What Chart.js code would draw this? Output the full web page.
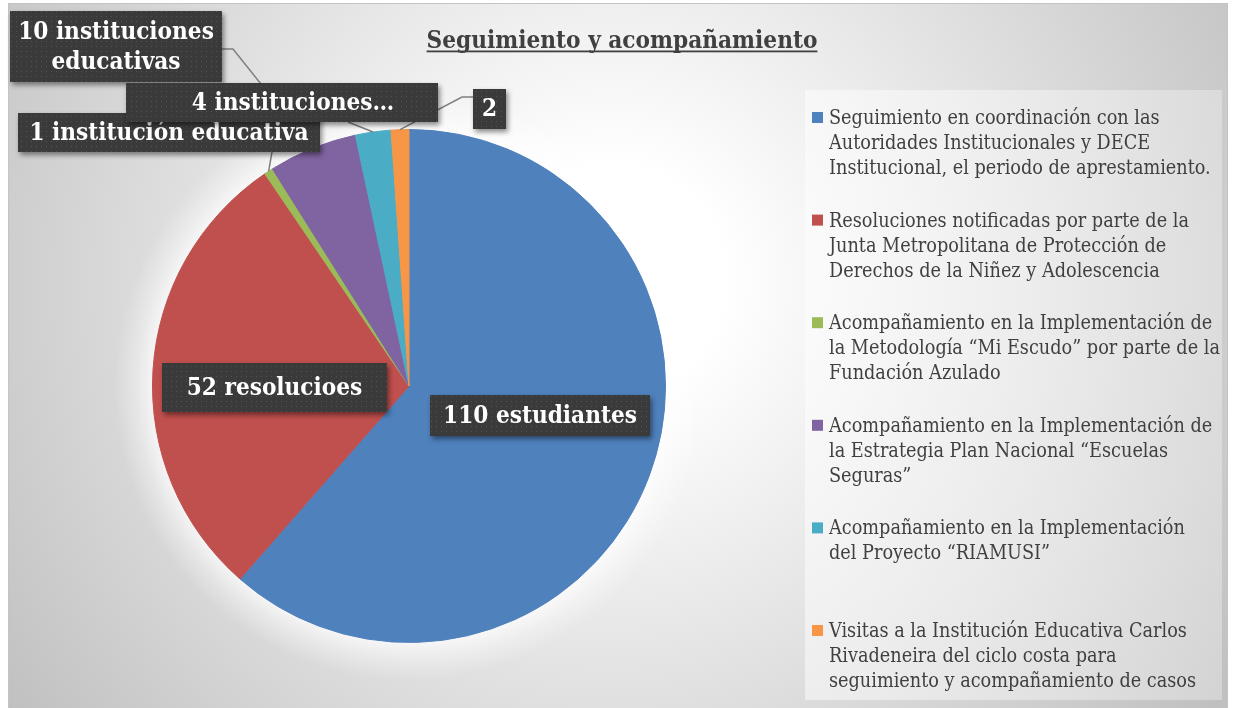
<!DOCTYPE html>
<html><head><meta charset="utf-8">
<script src="https://cdn.jsdelivr.net/npm/chart.js@4.4.0/dist/chart.umd.min.js"></script>
<style>html,body{margin:0;padding:0;background:#fff}#wrap{position:relative;width:1235px;height:708px}</style>
</head><body><div id="wrap"><canvas id="c"></canvas></div>
<script>
// ---- data ----
const chartTitle = 'Seguimiento y acompañamiento';
const categories = [
  ['Seguimiento en coordinación con las', 'Autoridades Institucionales y DECE', 'Institucional, el periodo de aprestamiento.'],
  ['Resoluciones notificadas por parte de la', 'Junta Metropolitana de Protección de', 'Derechos de la Niñez y Adolescencia'],
  ['Acompañamiento en la Implementación de', 'la Metodología “Mi Escudo” por parte de la', 'Fundación Azulado'],
  ['Acompañamiento en la Implementación de', 'la Estrategia Plan Nacional “Escuelas', 'Seguras”'],
  ['Acompañamiento en la Implementación', 'del Proyecto “RIAMUSI”'],
  ['Visitas a la Institución Educativa Carlos', 'Rivadeneira del ciclo costa para', 'seguimiento y acompañamiento de casos']
];
const values = [110, 52, 1, 10, 4, 2];
const dataLabels = [
  ['110 estudiantes'],
  ['52 resolucioes'],
  ['1 institución educativa'],
  ['10 instituciones', 'educativas'],
  ['4 instituciones…'],
  ['2']
];
const colors = ['#4F81BD', '#C0504D', '#9BBB59', '#8064A2', '#4BACC6', '#F79646'];

// ---- layout (relative to pie centre) ----
const labelLayout = [
  {box: [21, 9, 220, 41]},
  {box: [-247, -23, 225, 49]},
  {box: [-391, -273, 302, 39], leader: [[-137, -234]]},
  {box: [-399, -375, 212, 71], leader: [[-187, -337], [-176, -337]]},
  {box: [-283, -303, 312, 39], leader: [[-61, -264]], tdx: 11},
  {box: [64, -297, 33, 40], leader: [[64, -289], [53, -289]]}
];
const FAMILY = "'DejaVu Serif Condensed','DejaVu Serif','Liberation Serif',serif";

function fitSize(ctx, text, weight, target) {
  ctx.font = weight + ' 100px ' + FAMILY;
  return 100 * target / ctx.measureText(text).width;
}

let dotPattern = null;
function getPattern(ctx) {
  if (dotPattern) return dotPattern;
  const pc = document.createElement('canvas');
  pc.width = 5; pc.height = 5;
  const p = pc.getContext('2d');
  p.fillStyle = 'rgba(255,255,255,0.13)';
  p.fillRect(1, 1, 1, 1);
  dotPattern = ctx.createPattern(pc, 'repeat');
  return dotPattern;
}

const decor = {
  id: 'decor',
  beforeDraw(chart) {
    const ctx = chart.ctx;
    ctx.save();
    // frame background
    const g = ctx.createRadialGradient(610, 280, 0, 610, 280, 760);
    g.addColorStop(0, '#ffffff');
    g.addColorStop(0.15, '#ffffff');
    g.addColorStop(0.9, '#c6c6c6');
    g.addColorStop(1, '#bebebe');
    ctx.fillStyle = g;
    ctx.fillRect(8, 3, 1220, 705);
    ctx.strokeStyle = '#c4c4c4';
    ctx.lineWidth = 1;
    ctx.strokeRect(8.5, 3.5, 1219, 705);
    // legend box
    const lg = ctx.createLinearGradient(805, 0, 1222, 0);
    lg.addColorStop(0, 'rgba(255,255,255,0.5)');
    lg.addColorStop(1, 'rgba(255,255,255,0.3)');
    ctx.fillStyle = lg;
    ctx.fillRect(805, 90, 417, 610);
    // title
    const ts = fitSize(ctx, chartTitle, 'bold', 391);
    ctx.font = 'bold ' + ts + 'px ' + FAMILY;
    ctx.fillStyle = '#404040';
    ctx.textAlign = 'center';
    ctx.textBaseline = 'alphabetic';
    ctx.fillText(chartTitle, 622, 48);
    const tw = ctx.measureText(chartTitle).width;
    ctx.fillRect(622 - tw / 2, 50.5, tw, 1.8);
    ctx.restore();
  },
  beforeDatasetsDraw(chart) {
    // soft white glow around the pie
    const ctx = chart.ctx;
    const a = chart.getDatasetMeta(0).data[0];
    ctx.save();
    const R = a.outerRadius;
    const gg = ctx.createRadialGradient(a.x, a.y, R - 2, a.x, a.y, R + 38);
    gg.addColorStop(0, 'rgba(255,255,255,0.75)');
    gg.addColorStop(0.45, 'rgba(255,255,255,0.35)');
    gg.addColorStop(1, 'rgba(255,255,255,0)');
    ctx.fillStyle = gg;
    ctx.beginPath();
    ctx.arc(a.x, a.y, R + 40, 0, Math.PI * 2);
    ctx.fill();
    ctx.restore();
  },
  afterDatasetsDraw(chart) {
    const ctx = chart.ctx;
    const meta = chart.getDatasetMeta(0);
    const cx = meta.data[0].x, cy = meta.data[0].y;
    ctx.save();
    // leader lines
    ctx.strokeStyle = '#7f7f7f';
    ctx.lineWidth = 1.5;
    labelLayout.forEach((L, i) => {
      if (!L.leader) return;
      const a = meta.data[i];
      const mid = (a.startAngle + a.endAngle) / 2;
      const ex = a.x + Math.cos(mid) * a.outerRadius;
      const ey = a.y + Math.sin(mid) * a.outerRadius;
      ctx.beginPath();
      L.leader.forEach((p, k) => {
        if (k === 0) ctx.moveTo(cx + p[0], cy + p[1]); else ctx.lineTo(cx + p[0], cy + p[1]);
      });
      ctx.lineTo(ex, ey);
      ctx.stroke();
    });
    // label boxes
    const fs = fitSize(ctx, dataLabels[0][0], 'bold', 194);
    [0, 1, 2, 3, 4, 5].forEach(i => {
      const L = labelLayout[i];
      const x = cx + L.box[0], y = cy + L.box[1], w = L.box[2], h = L.box[3];
      ctx.save();
      ctx.shadowColor = 'rgba(0,0,0,0.45)';
      ctx.shadowBlur = 5; ctx.shadowOffsetX = 2; ctx.shadowOffsetY = 3;
      ctx.fillStyle = '#3a3a3a';
      ctx.fillRect(x, y, w, h);
      ctx.restore();
      ctx.fillStyle = getPattern(ctx);
      ctx.fillRect(x, y, w, h);
      ctx.fillStyle = '#ffffff';
      ctx.font = 'bold ' + fs + 'px ' + FAMILY;
      ctx.textAlign = 'center';
      ctx.textBaseline = 'middle';
      const lines = dataLabels[i];
      const lh = fs * 1.25;
      const y0 = y + h / 2 - (lines.length - 1) * lh / 2 + 1;
      lines.forEach((t, k) => ctx.fillText(t, x + w / 2 + (L.tdx || 0), y0 + k * lh));
    });
    ctx.restore();
  },
  afterDraw(chart) {
    const ctx = chart.ctx;
    ctx.save();
    const ls = fitSize(ctx, categories[0][0], 'normal', 331);
    ctx.font = ls + 'px ' + FAMILY;
    ctx.textAlign = 'left';
    ctx.textBaseline = 'alphabetic';
    categories.forEach((lines, i) => {
      const base = 124 + i * 102.6;
      ctx.fillStyle = colors[i];
      ctx.fillRect(812, base - 12, 11, 11);
      ctx.fillStyle = '#404040';
      lines.forEach((t, k) => ctx.fillText(t, 829, base + k * 25));
    });
    ctx.restore();
  }
};

new Chart(document.getElementById('c'), {
  type: 'pie',
  data: {
    labels: categories.map(l => l.join(' ')),
    datasets: [{
      data: values,
      backgroundColor: colors,
      borderColor: colors,
      borderWidth: 1,
      hoverOffset: 0,
      offset: 0
    }]
  },
  options: {
    responsive: true,
    maintainAspectRatio: false,
    animation: false,
    devicePixelRatio: 1,
    rotation: 0,
    layout: {padding: {left: 152, right: 569, top: 129, bottom: 65}},
    plugins: {legend: {display: false}, title: {display: false}, tooltip: {enabled: false}}
  },
  plugins: [decor]
});
</script>
</body></html>
